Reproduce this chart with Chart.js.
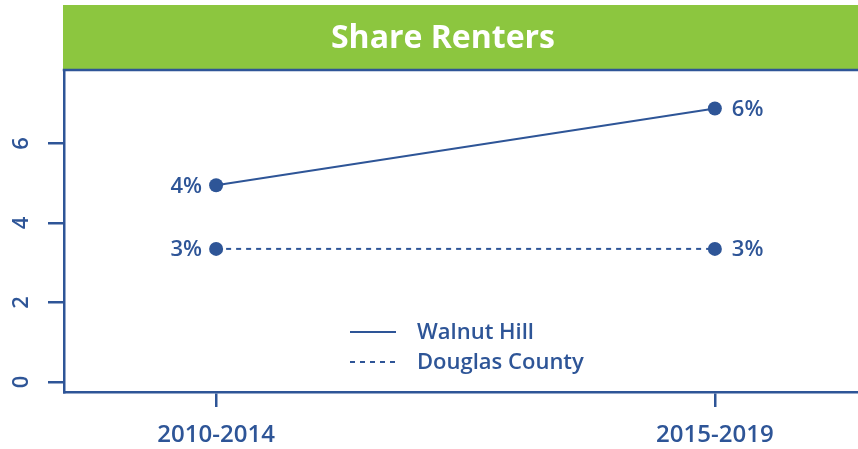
<!DOCTYPE html>
<html>
<head>
<meta charset="utf-8">
<script src="https://cdn.jsdelivr.net/npm/chart.js@4/dist/chart.umd.min.js"></script>
<style>
  html, body { margin: 0; padding: 0; background: #fff; }
  #wrap { width: 858px; height: 449px; }
</style>
</head>
<body>
<div id="wrap"><canvas id="c" width="858" height="449"></canvas></div>
<script>
  // ---- data ----
  const categories = ['2010-2014', '2015-2019'];
  const walnutHill = [4.95, 6.88];
  const douglasCounty = [3.35, 3.35];
  const walnutLabels = ['4%', '6%'];
  const douglasLabels = ['3%', '3%'];
  const yTicks = [0, 2, 4, 6];
  const seriesNames = ['Walnut Hill', 'Douglas County'];
  const title = 'Share Renters';

  const BLUE = '#2E5597';
  const GREEN = '#8CC63F';
  const FONT = "'Open Sans', sans-serif";

  const pts = arr => arr.map((v, i) => ({ x: i, y: v }));

  // title band, frame top, rotated y labels, value labels, legend
  const decor = {
    id: 'decor',
    beforeDraw(chart){
      const { ctx, chartArea } = chart;
      ctx.save();
      ctx.fillStyle = GREEN;
      ctx.fillRect(chartArea.left - 1, 5, chart.width - chartArea.left + 1, chartArea.top - 5);
      ctx.fillStyle = '#fff';
      ctx.font = "bold 32px " + FONT;
      ctx.textAlign = 'center';
      ctx.textBaseline = 'middle';
      ctx.fillText(title, 443, 39);
      ctx.restore();
    },
    afterDraw(chart){
      const { ctx, chartArea, scales } = chart;
      ctx.save();
      // top frame line
      ctx.strokeStyle = BLUE;
      ctx.lineWidth = 2.5;
      ctx.beginPath();
      ctx.moveTo(chartArea.left - 1.25, chartArea.top);
      ctx.lineTo(chart.width, chartArea.top);
      ctx.stroke();

      // y tick labels, rotated
      ctx.fillStyle = BLUE;
      ctx.font = "600 22px " + FONT;
      ctx.textAlign = 'center';
      ctx.textBaseline = 'middle';
      yTicks.forEach(v => {
        const y = scales.y.getPixelForValue(v);
        ctx.save();
        ctx.translate(22, y);
        ctx.rotate(-Math.PI / 2);
        ctx.fillText(String(v), 0, 0);
        ctx.restore();
      });

      // value labels next to points
      const labelSets = [walnutLabels, douglasLabels];
      labelSets.forEach((labels, di) => {
        const meta = chart.getDatasetMeta(di);
        meta.data.forEach((p, i) => {
          ctx.textAlign = i === 0 ? 'right' : 'left';
          ctx.fillText(labels[i], i === 0 ? p.x - 14 : p.x + 17, p.y + 1);
        });
      });

      // legend
      const lx = 350, lw = 46, tx = 417;
      const rows = [332, 362];
      rows.forEach((ry, i) => {
        ctx.beginPath();
        ctx.lineWidth = 2;
        ctx.setLineDash(i === 0 ? [] : [5, 5]);
        ctx.moveTo(lx, ry);
        ctx.lineTo(lx + lw, ry);
        ctx.stroke();
        ctx.setLineDash([]);
        ctx.textAlign = 'left';
        ctx.fillText(seriesNames[i], tx, ry + 1);
      });
      ctx.restore();
    }
  };

  new Chart(document.getElementById('c'), {
    type: 'line',
    data: {
      datasets: [
        {
          label: seriesNames[0], data: pts(walnutHill),
          borderColor: BLUE, backgroundColor: BLUE, borderWidth: 2,
          pointRadius: 7, pointBackgroundColor: BLUE, pointBorderWidth: 0
        },
        {
          label: seriesNames[1], data: pts(douglasCounty),
          borderColor: BLUE, backgroundColor: BLUE, borderWidth: 2, borderDash: [5, 5],
          pointRadius: 7, pointBackgroundColor: BLUE, pointBorderWidth: 0
        }
      ]
    },
    options: {
      responsive: false, animation: false,
      layout: { autoPadding: false, padding: { top: 70, left: 0, right: 0, bottom: 0 } },
      plugins: { legend: { display: false }, tooltip: { enabled: false }, title: { display: false } },
      scales: {
        x: {
          type: 'linear', min: -0.305, max: 1.287,
          afterBuildTicks: s => { s.ticks = categories.map((c, i) => ({ value: i })); },
          afterFit: s => { s.height = 57; s.paddingLeft = 0; s.paddingRight = 0; },
          ticks: {
            callback: v => categories[v], color: BLUE, padding: 14,
            font: { family: FONT, size: 24, weight: '600' }, maxRotation: 0
          },
          grid: { drawOnChartArea: false, drawTicks: true, tickLength: 15, color: BLUE, lineWidth: 2.5 },
          border: { display: true, color: BLUE, width: 2.5 }
        },
        y: {
          min: -0.25, max: 7.85,
          afterBuildTicks: s => { s.ticks = yTicks.map(v => ({ value: v })); },
          afterFit: s => { s.width = 64; s.paddingTop = 0; s.paddingBottom = 0; },
          ticks: { display: false },
          grid: { drawOnChartArea: false, drawTicks: true, tickLength: 16, color: BLUE, lineWidth: 2.5 },
          border: { display: true, color: BLUE, width: 2.5 }
        }
      }
    },
    plugins: [decor]
  });
</script>
</body>
</html>
